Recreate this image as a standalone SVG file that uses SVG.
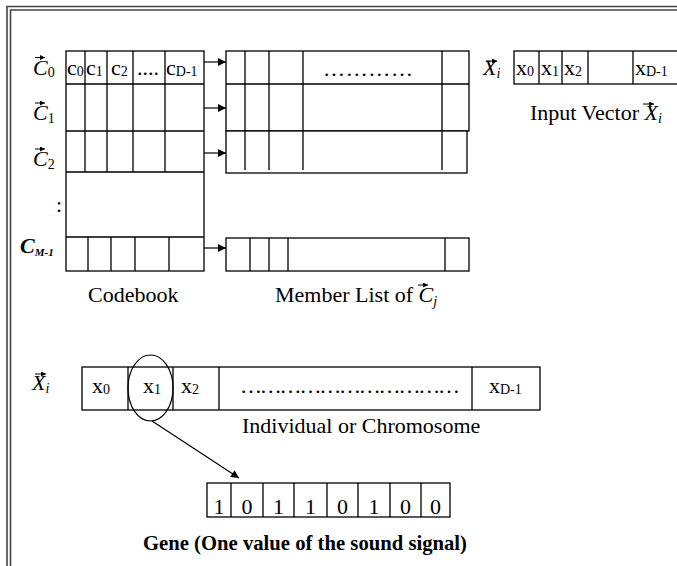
<svg xmlns="http://www.w3.org/2000/svg" width="677" height="566" viewBox="0 0 677 566">
<defs>
<marker id="ah" viewBox="0 0 10 10" refX="10" refY="5" markerWidth="9" markerHeight="8" markerUnits="userSpaceOnUse" orient="auto"><path d="M0,0 L10,5 L0,10 z" fill="#000"/></marker>
<marker id="va" viewBox="0 0 10 10" refX="10" refY="5" markerWidth="5" markerHeight="5" markerUnits="userSpaceOnUse" orient="auto"><path d="M0,0 L10,5 L0,10 z" fill="#000"/></marker>
<style>
.t{font-family:"Liberation Serif","Times New Roman",serif;fill:#000;font-size:22px}
.i{font-style:italic}
.s{font-size:14px}
.cell{fill:#fff;stroke:#000;stroke-width:1.3}
.ln{stroke:#000;stroke-width:1.3;fill:none}
.frame{stroke:#444;stroke-width:1.6;fill:none}
.conn{stroke:#000;stroke-width:1.2;fill:none}
.vec{stroke:#000;stroke-width:1;fill:none;marker-end:url(#va)}
</style>
</defs>
<rect width="677" height="566" fill="#fff"/>
<g id="frame">
<path class="frame" d="M7,566 V6.5 H677"/>
<path class="frame" d="M10.5,566 V10 H677"/>
</g>
<g id="codebook-labels">
<text class="t i" x="33" y="75">C<tspan class="s" font-style="normal" dy="2">0</tspan></text>
<path class="vec" d="M35,57.5 H45"/>
<text class="t i" x="33" y="120">C<tspan class="s" font-style="normal" dy="3">1</tspan></text>
<path class="vec" d="M35,103 H45"/>
<text class="t i" x="33" y="166">C<tspan class="s" font-style="normal" dy="3">2</tspan></text>
<path class="vec" d="M35,149 H45"/>
<text class="t" x="56" y="212">:</text>
<text class="t i" x="20" y="253" font-weight="bold">C<tspan font-size="11" dy="3">M-1</tspan></text>
</g>
<g id="codebook">
<rect class="cell" x="66" y="51" width="138" height="220"/>
<path class="ln" d="M66,84 H204 M66,131 H204 M66,172 H204 M66,237 H204 M85,51 V172 M107,51 V172 M133,51 V172 M165,51 V172 M88,237 V271 M111,237 V271 M135,237 V271 M169,237 V271"/>
<text class="t" x="67" y="75" font-size="19">c<tspan class="s" dy="1">0</tspan></text>
<text class="t" x="86" y="75" font-size="19">c<tspan class="s" dy="1">1</tspan></text>
<text class="t" x="111" y="75" font-size="19">c<tspan class="s" dy="1">2</tspan></text>
<text class="t" x="137" y="75" font-size="14">....</text>
<text class="t" x="166" y="75" font-size="19">c<tspan class="s" dy="1">D-1</tspan></text>
<text class="t" x="88" y="302">Codebook</text>
</g>
<g id="member-list">
<rect class="cell" x="226" y="51" width="243" height="80"/>
<path class="ln" d="M226,84 H469 M245,51 V131 M269,51 V131 M303,51 V131 M442,51 V131"/>
<text class="t" x="323" y="76" font-size="14" textLength="90" lengthAdjust="spacing">… … … …</text>
<rect class="cell" x="226" y="131" width="241" height="42"/>
<path class="ln" d="M245,131 V170 M269,131 V170 M303,131 V170 M442,131 V170"/>
<rect class="cell" x="226" y="238" width="243" height="33"/>
<path class="ln" d="M250,238 V271 M269,238 V271 M288,238 V271 M445,238 V271"/>
<text class="t" x="275" y="302">Member List of <tspan class="i">C</tspan><tspan class="s i" dy="4">j</tspan></text>
<path class="vec" d="M418,285 H428"/>
</g>
<g id="input-vector">
<text class="t i" x="483" y="75">X<tspan class="s" dy="3">i</tspan></text>
<path class="vec" d="M486,61 H497"/>
<rect class="cell" x="514" y="51" width="170" height="33"/>
<path class="ln" d="M539,51 V84 M562,51 V84 M588,51 V84 M633,51 V84"/>
<text class="t" x="516" y="75" font-size="18">x<tspan class="s" dy="1">0</tspan></text>
<text class="t" x="541" y="75" font-size="18">x<tspan class="s" dy="1">1</tspan></text>
<text class="t" x="564" y="75" font-size="18">x<tspan class="s" dy="1">2</tspan></text>
<text class="t" x="635" y="75" font-size="18">x<tspan class="s" dy="1">D-1</tspan></text>
<text class="t" x="530" y="120">Input Vector <tspan class="i">X</tspan><tspan class="s i" dy="3">i</tspan></text>
<path class="vec" d="M643,104 H654"/>
</g>
<g id="connectors">
<path class="conn" marker-end="url(#ah)" d="M204,62 H226"/>
<path class="conn" marker-end="url(#ah)" d="M204,108 H226"/>
<path class="conn" marker-end="url(#ah)" d="M204,153 H226"/>
<path class="conn" marker-end="url(#ah)" d="M204,248 H226"/>
<path class="conn" marker-end="url(#ah)" d="M152,421 L239,478"/>
</g>
<g id="chromosome">
<text class="t i" x="32" y="390">X<tspan class="s" dy="3">i</tspan></text>
<path class="vec" d="M35,374 H46"/>
<rect class="cell" x="82" y="367" width="458" height="43"/>
<path class="ln" d="M128,367 V410 M173,367 V410 M219,367 V410 M472,367 V410"/>
<text class="t" x="92" y="393" font-size="18">x<tspan class="s" dy="1">0</tspan></text>
<text class="t" x="143" y="393" font-size="18">x<tspan class="s" dy="1">1</tspan></text>
<text class="t" x="181" y="393" font-size="18">x<tspan class="s" dy="1">2</tspan></text>
<text class="t" x="240" y="393" font-size="14" textLength="220" lengthAdjust="spacing">… … … … … … … … … … …</text>
<text class="t" x="489" y="393" font-size="18">x<tspan class="s" dy="1">D-1</tspan></text>
<ellipse cx="150.5" cy="388" rx="22.5" ry="33" fill="none" stroke="#000" stroke-width="1.2"/>
<text class="t" x="242" y="433">Individual or Chromosome</text>
</g>
<g id="gene">
<rect class="cell" x="207" y="483" width="243" height="34"/>
<path class="ln" d="M231,483 V517 M263,483 V517 M294,483 V517 M327,483 V517 M358,483 V517 M390,483 V517 M421,483 V517"/>
<g class="t" text-anchor="middle">
<text x="219" y="514">1</text>
<text x="247" y="514">0</text>
<text x="278.5" y="514">1</text>
<text x="310.5" y="514">1</text>
<text x="342.5" y="514">0</text>
<text x="374" y="514">1</text>
<text x="405.5" y="514">0</text>
<text x="435.5" y="514">0</text>
</g>
<text class="t" x="143" y="550" font-size="19" font-weight="bold" textLength="324" lengthAdjust="spacingAndGlyphs">Gene (One value of the sound signal)</text>
</g>
</svg>
